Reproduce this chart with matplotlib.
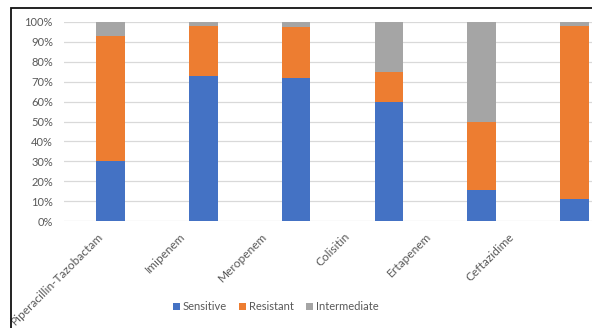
import numpy as np
import matplotlib.pyplot as plt
from matplotlib.patches import Rectangle
from matplotlib.ticker import PercentFormatter

plt.rcParams['font.family'] = ['Lato', 'DejaVu Sans']

drugs = ['Piperacillin-Tazobactam', 'Imipenem', 'Meropenem',
         'Colisitin', 'Ertapenem', 'Ceftazidime']
sensitive = [30, 73, 72, 59.6, 15.5, 11]
resistant = [63, 25, 25.5, 15.4, 34.5, 87]
intermediate = [7, 2, 2.5, 25, 50, 2]

colors = ['#4472C4', '#ED7D31', '#A5A5A5']
grey_txt = '#595959'

W, H = 592, 328
fig = plt.figure(figsize=(W / 100, H / 100), dpi=100)

# plot area (right side runs past the canvas edge)
left_px, right_px, top_px, bot_px = 64, 592, 22, 221
ax = fig.add_axes([left_px / W, 1 - bot_px / H,
                   (right_px - left_px) / W, (bot_px - top_px) / H])

x = np.arange(len(drugs))
w = 0.31
s = np.array(sensitive) / 100
r = np.array(resistant) / 100
i = np.array(intermediate) / 100
ax.bar(x, s, w, color=colors[0], label='Sensitive', zorder=3)
ax.bar(x, r, w, bottom=s, color=colors[1], label='Resistant', zorder=3)
ax.bar(x, i, w, bottom=s + r, color=colors[2], label='Intermediate', zorder=3)

ax.set_xlim(-0.5, 5.5 - (621 - 592) / 92.8)
ax.set_ylim(0, 1)
ax.set_yticks(np.arange(0, 1.01, 0.1))
ax.yaxis.set_major_formatter(PercentFormatter(1.0, decimals=0))
ax.grid(axis='y', color='#D9D9D9', lw=0.9, zorder=0)
ax.tick_params(axis='y', length=0, pad=8, labelsize=8, labelcolor=grey_txt)
ax.tick_params(axis='x', length=0, labelbottom=False)
for sp in ax.spines.values():
    sp.set_visible(False)

# category labels sit on their own, slightly tighter spacing
lab0 = 102.0
step = 82.0
ratio = 92.8 / step
off = (110.7 - lab0) / step
sec = ax.secondary_xaxis('bottom',
                         functions=(lambda v: v * ratio + off,
                                    lambda v: (v - off) / ratio))
sec.set_xticks(x)
sec.set_xticklabels(drugs, rotation=45, ha='right', va='center',
                    rotation_mode='anchor')
sec.tick_params(length=0, pad=10, labelsize=8.6, labelcolor=grey_txt)
sec.spines['bottom'].set_visible(False)

leg = fig.legend(loc='center', bbox_to_anchor=(276 / W, 1 - 307 / H),
                 ncol=3, frameon=False, fontsize=8, handlelength=0.6,
                 handleheight=0.6, handletextpad=0.3, columnspacing=1.1)
for t in leg.get_texts():
    t.set_color(grey_txt)

# chart frame
fig.add_artist(Rectangle((11 / W, -0.1), 1.2, 1 - 7.5 / H + 0.1,
                         transform=fig.transFigure, fill=False,
                         edgecolor='#111111', lw=1.3))

fig.savefig('out.png', dpi=100)
